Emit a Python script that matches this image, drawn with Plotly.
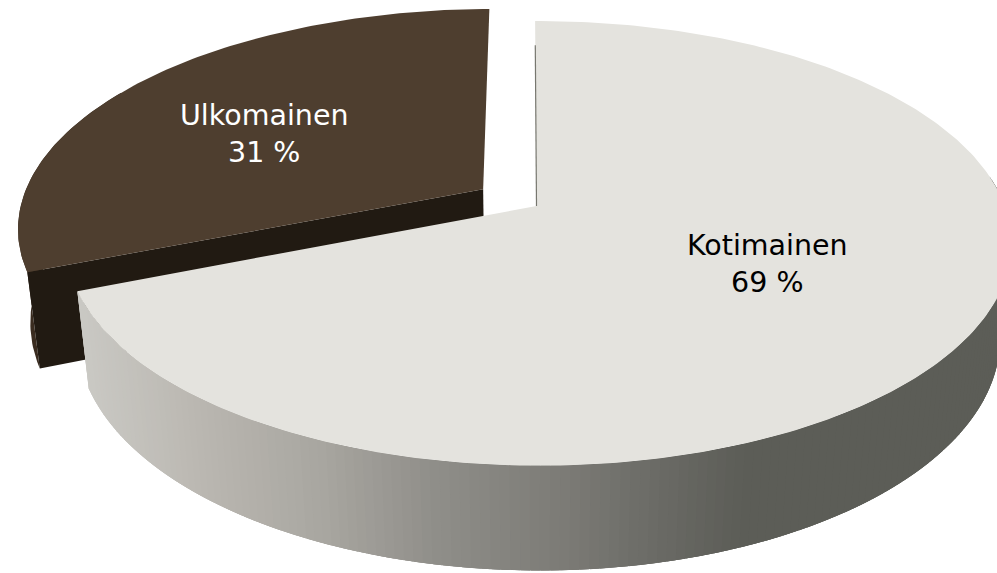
import numpy as np
import plotly.graph_objects as go

labels = ["Kotimainen", "Ulkomainen"]
values = [69, 31]
top_colors = ["#e4e3de", "#4e3e2f"]
rim_color_small = "#3a2c20"
cut_color_small = "#211a12"
text_colors = ["#000000", "#ffffff"]

# projection of a tilted disc (u right, v away, z down)
CX, CY, A, B, C, K, J, M = 536.5, 206.0, 466.0, 216.0, 96.0, 0.168, -0.005, 0.024
EXPLODE = 0.14
ROT = -0.2


def proj(theta_deg, r=1.0, z=0.0, off=(0.0, 0.0)):
    t = np.radians(np.asarray(theta_deg, dtype=float))
    u = r * np.sin(t) + off[0]
    v = r * np.cos(t) + off[1]
    w = 1 + K * v + J * u + M * z
    return CX + A * u / w, CY - B * v / w + C * z / w


def poly(fig, x, y, color, lw=0.0):
    fig.add_trace(go.Scatter(x=list(x), y=list(y), mode="lines", fill="toself", fillcolor=color,
                             line=dict(color=color, width=lw), hoverinfo="skip", showlegend=False))


total = sum(values)
a_big = 360.0 * values[0] / total
a_start, a_end = ROT, ROT + a_big
mid = (a_end + 360 + ROT) / 2
off = (EXPLODE * np.sin(np.radians(mid)), EXPLODE * np.cos(np.radians(mid)))

fig = go.Figure()

# small exploded slice
th = np.linspace(a_end, 300, 60)
x1, y1 = proj(th, off=off)
x2, y2 = proj(th[::-1], z=1, off=off)
poly(fig, np.r_[x1, x2], np.r_[y1, y2], rim_color_small)
cx0, cy0 = proj(0, r=0, off=off)
cx1, cy1 = proj(0, r=0, z=1, off=off)
ex0, ey0 = proj(a_end, off=off)
ex1, ey1 = proj(a_end, z=1, off=off)
poly(fig, [cx0, ex0, ex1, cx1], [cy0, ey0, ey1, cy1], cut_color_small)
th = np.linspace(a_end, 360 + ROT, 120)
tx, ty = proj(th, off=off)
poly(fig, np.r_[cx0, tx], np.r_[cy0, ty], top_colors[1])

# big slice rim with a horizontal shade; each strip runs under the next one
stop_x = [85, 200, 320, 440, 560, 650, 745, 1000]
stop_r = [0xca, 0xbb, 0xa9, 0x8f, 0x7d, 0x6c, 0x5c, 0x5c]
stop_g = [0xc9, 0xb8, 0xa7, 0x8e, 0x7c, 0x6c, 0x5d, 0x5d]
stop_b = [0xc4, 0xb2, 0xa1, 0x89, 0x77, 0x67, 0x57, 0x57]
edges = np.linspace(82, a_end, 161)
for a, b in zip(edges[:-1], edges[1:]):
    seg = np.linspace(a, min(b + 2.0, a_end), 5)
    xa, ya = proj(seg)
    xb, yb = proj(seg[::-1], z=1)
    xm = (proj(a)[0] + proj(b)[0] + proj(a, z=1)[0] + proj(b, z=1)[0]) / 4
    col = "rgb(%d,%d,%d)" % tuple(np.interp(xm, stop_x, s) for s in (stop_r, stop_g, stop_b))
    poly(fig, np.r_[xa, xb], np.r_[ya, yb], col)

# big slice top
th = np.linspace(a_start, a_end, 300)
tx, ty = proj(th)
ax, ay = proj(0, r=0)
poly(fig, np.r_[ax, tx], np.r_[ay, ty], top_colors[0])

# thin seam of the near-edge-on cut face
sx0, sy0 = proj(a_start, r=0.0)
sx1, sy1 = proj(a_start, r=0.85)
fig.add_trace(go.Scatter(x=[sx0, sx1], y=[sy0, sy1], mode="lines", line=dict(color="#77776f", width=1.2),
                         hoverinfo="skip", showlegend=False))

label_pos = [(767, 264), (264, 134)]
for lab, val, col, (px, py) in zip(labels, values, text_colors, label_pos):
    fig.add_annotation(x=px, y=py, xref="x", yref="y", text=f"{lab}<br>{val} %", showarrow=False,
                       font=dict(family="DejaVu Sans", size=28.5, color=col), align="center")

fig.update_layout(width=997, height=573, margin=dict(l=0, r=0, t=0, b=0), paper_bgcolor="white",
                  plot_bgcolor="white", showlegend=False,
                  xaxis=dict(range=[0, 997], visible=False, fixedrange=True),
                  yaxis=dict(range=[573, 0], visible=False, fixedrange=True))
fig.write_html("out.html", post_script="document.body.style.margin='0';document.body.style.overflow='hidden';",
               config={"displayModeBar": False})
